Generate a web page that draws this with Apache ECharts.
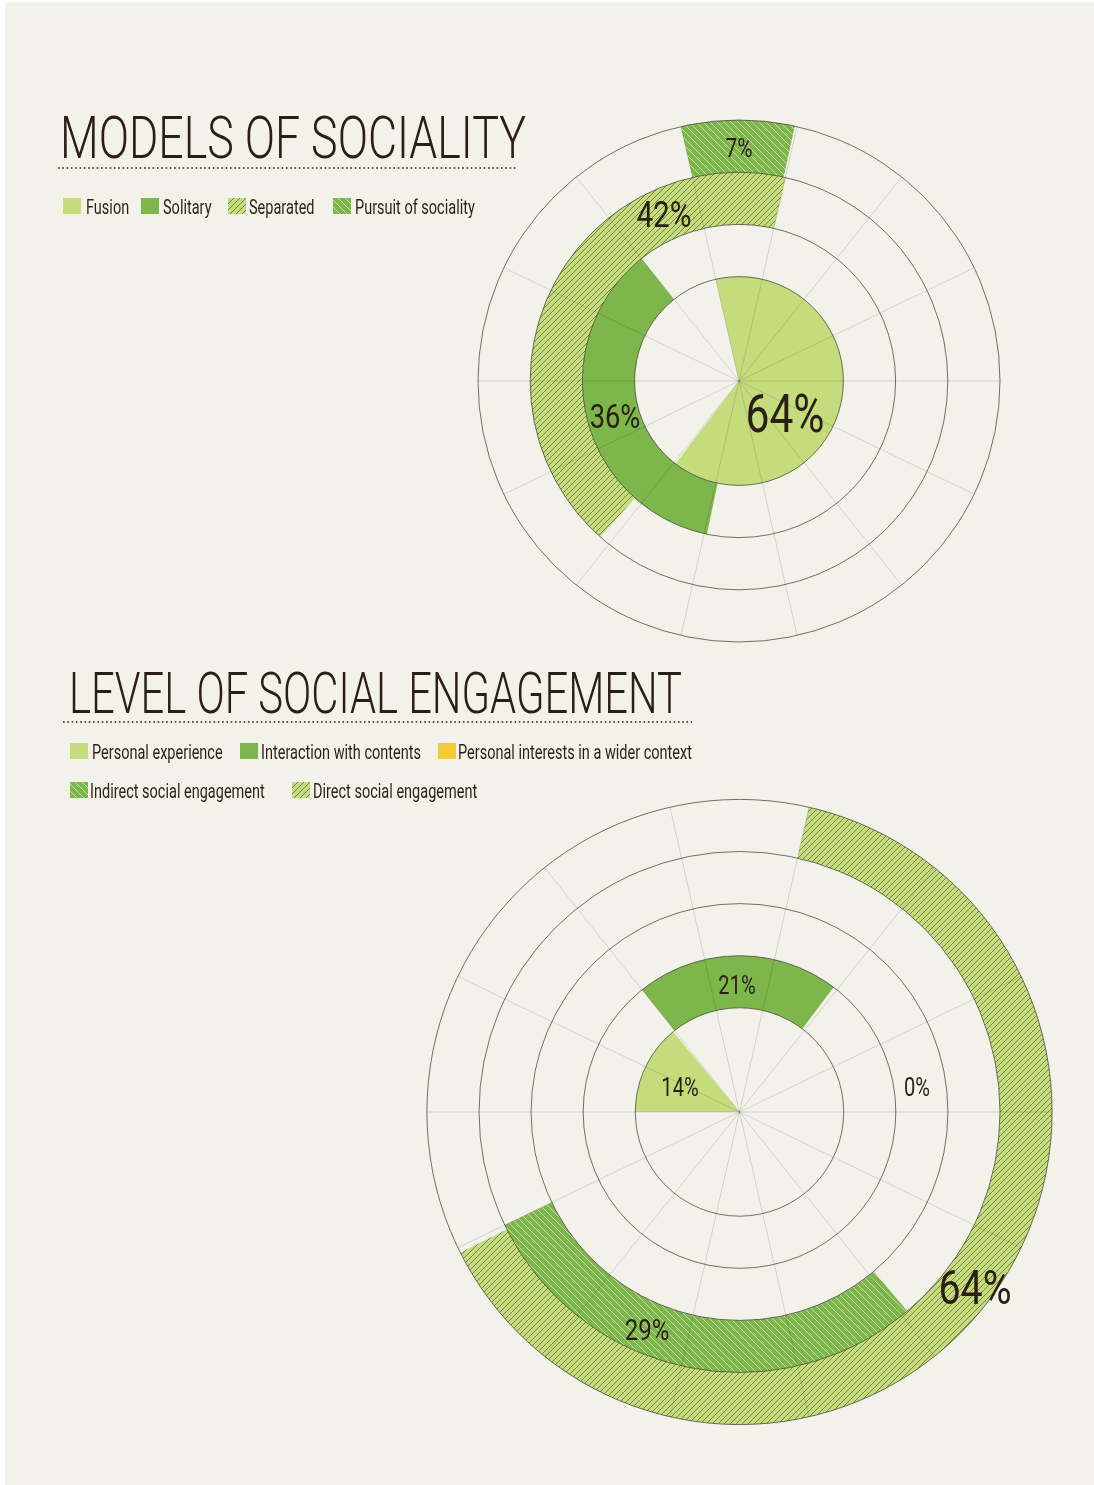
<!DOCTYPE html>
<html><head><meta charset="utf-8">
<script src="https://cdn.jsdelivr.net/npm/echarts@6/dist/echarts.min.js"></script>
<style>html,body{margin:0;padding:0;background:#fff}#c{width:1094px;height:1485px}</style>
</head><body><div id="c"></div><script>
// ---------------- data ----------------
const socialityTitle = 'MODELS OF SOCIALITY';
const socialityNames = ['Fusion', 'Solitary', 'Separated', 'Pursuit of sociality'];
const socialityValues = [64, 36, 42, 7];

const engagementTitle = 'LEVEL OF SOCIAL ENGAGEMENT';
const engagementNames = ['Personal experience', 'Interaction with contents', 'Personal interests in a wider context', 'Indirect social engagement', 'Direct social engagement'];
const engagementValues = [14, 21, 0, 29, 64];

// ---------------- style ----------------
const BG = '#f2f1ea', TEXT = '#2b1e14';
const LIGHT = '#c4dc7b', DARK = '#7db64b', YELLOW = '#f2cb3a';
const FONT = 'Roboto, "Liberation Sans Narrow", "Liberation Sans", sans-serif';
const WEIGHT = 400;
const TITLE_WEIGHT = 300;

function hatch(bg, line, dir, s, lw) {
  const c = document.createElement('canvas');
  c.width = s; c.height = s;
  const g = c.getContext('2d');
  g.fillStyle = bg; g.fillRect(0, 0, s, s);
  g.strokeStyle = line; g.lineWidth = lw;
  g.beginPath();
  for (const k of [-s, 0, s]) {
    if (dir === '/') { g.moveTo(-2, s + k + 2); g.lineTo(s + 2, k - 2); }
    else { g.moveTo(-2, k - 2); g.lineTo(s + 2, s + k + 2); }
  }
  g.stroke();
  return c;
}
const patLight = { image: hatch(LIGHT, 'rgba(55,65,30,0.7)', '/', 6, 0.8), repeat: 'repeat' };
const patDark = { image: hatch(DARK, 'rgba(255,255,255,0.65)', '\\', 7, 0.8), repeat: 'repeat' };

const socialityFills = [LIGHT, DARK, patLight, patDark];
const engagementFills = [LIGHT, DARK, YELLOW, patDark, patLight];

const C1 = [739, 381], U1 = 52.2;
const C2 = [739.5, 1112], U2 = 52.1;
// [inner unit, outer unit, startAngle, clockwise]
const socialityRings = [[0, 2, 102.857, true], [2, 3, 128.571, false], [3, 4, 77.143, false], [4, 5, 102.857, true]];
const engagementRings = [[0, 2, 180, true], [2, 3, 128.571, true], [3, 4, 90, true], [4, 5, -154.286, false], [5, 6, 77.143, true]];
// label placement [x, y, fontSize]
const socialityLabelPos = [[785, 413, 53], [615, 416, 34], [664, 214, 37], [739, 148, 26]];
const engagementLabelPos = [[680, 1087, 25], [737, 985, 25], [917, 1087, 25], [647, 1329, 30], [975, 1287, 49]];

const mctx = document.createElement('canvas').getContext('2d');
function measure(t, size, w) { mctx.font = (w || WEIGHT) + ' ' + size + 'px ' + FONT; return mctx.measureText(t).width; }
const kLegend = 234 / measure('Personal interests in a wider context', 20);
const kLabel = 79 / measure('64%', 53);

function ring(name, value, center, unit, band, fill) {
  return {
    type: 'pie', name: name, center: center, radius: [band[0] * unit, band[1] * unit],
    startAngle: band[2], clockwise: band[3], silent: true, animation: false, z: 2,
    label: { show: false }, labelLine: { show: false }, emphasis: { disabled: true },
    itemStyle: { borderWidth: 0 },
    data: [
      { name: name, value: value, itemStyle: { color: fill } },
      { name: 'rest', value: 100 - value, itemStyle: { color: 'rgba(0,0,0,0)' } }
    ]
  };
}

const series = [];
socialityNames.forEach((n, i) => series.push(ring(n, socialityValues[i], C1, U1, socialityRings[i], socialityFills[i])));
engagementNames.forEach((n, i) => series.push(ring(n, engagementValues[i], C2, U2, engagementRings[i], engagementFills[i])));

const graphic = [];
graphic.push({ type: 'rect', shape: { x: 0, y: 0, width: 5, height: 1485 }, style: { fill: '#fff' }, silent: true });
graphic.push({ type: 'rect', shape: { x: 0, y: 0, width: 1094, height: 2 }, style: { fill: '#fff' }, silent: true });

function text(t, x, y, size, sx, align, w) {
  return { type: 'text', x: x, y: y + 0.1 * size, scaleX: sx, z: 100, silent: true,
    style: { text: t, fill: TEXT, fontFamily: FONT, fontWeight: w || WEIGHT, fontSize: size, align: align || 'center', verticalAlign: 'middle' } };
}
function title(t, x, yMid, size, width, lineY, lx1, lx2) {
  graphic.push(text(t, x, yMid, size, width / measure(t, size, TITLE_WEIGHT), 'left', TITLE_WEIGHT));
  graphic.push({ type: 'line', z: 100, silent: true, shape: { x1: lx1, y1: lineY, x2: lx2, y2: lineY },
    style: { stroke: TEXT, lineWidth: 1.6, lineDash: [1.6, 2.7] } });
}
title(socialityTitle, 60, 137, 60, 466, 168, 58, 518);
title(engagementTitle, 69, 693, 57, 613, 722, 63, 692);

function legendItem(name, fill, sx, sy, tx, cy) {
  graphic.push({ type: 'rect', z: 100, silent: true, shape: { x: sx, y: sy, width: 18, height: 16 }, style: { fill: fill } });
  graphic.push(text(name, tx, cy, 20, kLegend, 'left'));
}
const leg1 = [[63, 86], [141, 163], [228, 249], [333, 355]];
socialityNames.forEach((n, i) => legendItem(n, socialityFills[i], leg1[i][0], 198, leg1[i][1], 207));
const leg2 = [[70, 92, 743, 752], [240, 261, 743, 752], [438, 458, 743, 752], [70, 90, 782, 791], [292, 313, 782, 791]];
engagementNames.forEach((n, i) => legendItem(n, engagementFills[i], leg2[i][0], leg2[i][2], leg2[i][1], leg2[i][3]));

socialityValues.forEach((v, i) => { const p = socialityLabelPos[i]; graphic.push(text(v + '%', p[0], p[1], p[2], kLabel)); });
engagementValues.forEach((v, i) => { const p = engagementLabelPos[i]; graphic.push(text(v + '%', p[0], p[1], p[2], kLabel)); });

const spokeCount = 14;
const polars = [
  { center: C1, radius: [0, 5 * U1] }, { center: C1, radius: [2 * U1, 5 * U1] },
  { center: C2, radius: [0, 6 * U2] }, { center: C2, radius: [2 * U2, 6 * U2] }
];
const chart = echarts.init(document.getElementById('c'), null, { renderer: 'canvas' });
chart.setOption({
  backgroundColor: BG,
  animation: false,
  polar: polars,
  angleAxis: polars.map((p, i) => ({
    polarIndex: i, type: 'value', min: 0, max: spokeCount, interval: 1, startAngle: 0,
    show: i % 2 === 0, z: 3, axisLine: { show: false }, axisTick: { show: false }, axisLabel: { show: false },
    splitLine: { show: true, lineStyle: { color: 'rgba(0,0,0,0.13)', width: 1 } }
  })),
  radiusAxis: polars.map((p, i) => ({
    polarIndex: i, type: 'value', min: 0, max: i === 1 ? 3 : 4, interval: 1,
    show: i % 2 === 1, z: 3, axisLine: { show: false }, axisTick: { show: false }, axisLabel: { show: false },
    splitLine: { show: true, lineStyle: { color: 'rgba(60,55,45,0.7)', width: 1 } }
  })),
  series: series,
  graphic: graphic
});
</script></body></html>
